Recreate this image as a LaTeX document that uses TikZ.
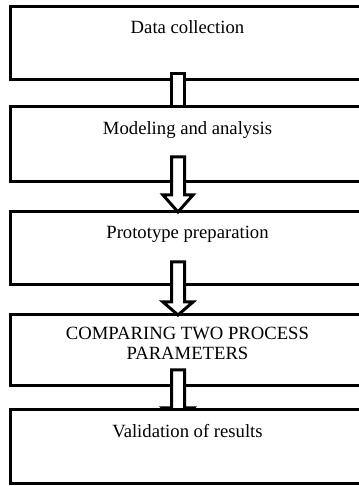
\documentclass[tikz,border=0pt]{standalone}
\usepackage{fontspec}
\setmainfont{Liberation Serif}
\usetikzlibrary{positioning,calc}
\tikzset{
  stagebox/.style={draw, line width=2.25pt, fill=white, inner sep=0pt, outer sep=0pt,
    minimum width=265.5pt},
  stagetext/.style={inner sep=0pt, align=center, font=\fontsize{14}{15}\selectfont},
  hollowarrow/.style={draw, line width=2.25pt, fill=white, line join=miter},
}
\begin{document}
\begin{tikzpicture}[x=0.75pt, y=0.75pt]
      \useasboundingbox (0,0) rectangle (358,486);
      \node[stagebox, minimum height=54.75pt] (b1) at (187.5,442.5) {};
      \node[stagebox, minimum height=56.25pt] (b2) at (187.5,341.5) {};
      \node[stagebox, minimum height=54.75pt] (b3) at (187.5,237.5) {};
      \node[stagebox, minimum height=53.25pt] (b4) at (187.5,135.5) {};
      \node[stagetext, below=9.75pt of b1.north] (t1) {Data collection};
      \node[stagetext, below=10.5pt of b2.north] (t2) {Modeling and analysis};
      \node[stagetext, below=10.5pt of b3.north] (t3) {Prototype preparation};
      \node[stagetext, below=9pt of b4.north] (t4) {COMPARING TWO PROCESS\\PARAMETERS};
      \draw[hollowarrow] ($(b2.north)+(-16.5,0)$) rectangle ++(13,33);
      \draw[hollowarrow] ($(b3.north)+(-9.5,0)$) -- ++(15,17) -- ++(-8.5,0) -- ++(0,38)
        -- ++(-13,0) -- ++(0,-38) -- ++(-8.5,0) -- cycle;
      \draw[hollowarrow] ($(b4.north)+(-9.5,0)$) -- ++(15,13) -- ++(-8.5,0) -- ++(0,40)
        -- ++(-13,0) -- ++(0,-40) -- ++(-8.5,0) -- cycle;
      \draw[hollowarrow] ($(b4.south)+(-9.5,-35)$) -- ++(15,13) -- ++(-8.5,0) -- ++(0,38)
        -- ++(-13,0) -- ++(0,-38) -- ++(-8.5,0) -- cycle;
      \node[stagebox, minimum height=55.5pt] (b5) at (187.5,39) {};
      \node[stagetext, below=10.5pt of b5.north] (t5) {Validation of results};
    \end{tikzpicture}
\end{document}
